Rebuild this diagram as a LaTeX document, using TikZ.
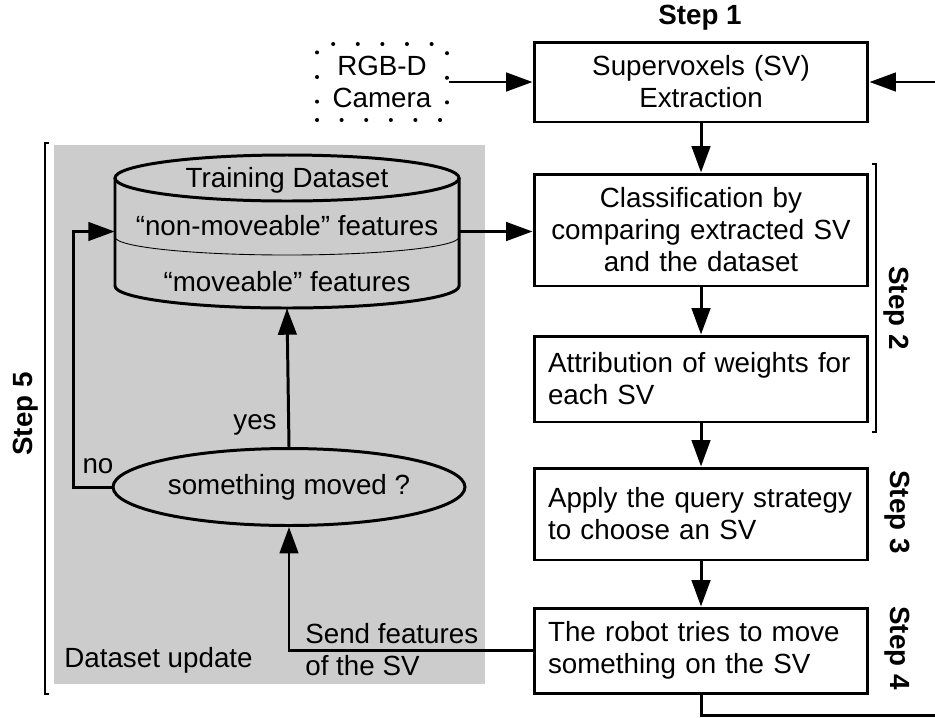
\documentclass[tikz,border=0pt]{standalone}
\usepackage{fontspec}
\setmainfont{Liberation Sans}
\usetikzlibrary{arrows.meta, shapes.geometric}

\tikzset{
	box/.style={draw, line width=1.7pt, minimum width=6.68cm, inner sep=0pt},
	lbox/.style={box, text width=6.12cm, inner xsep=0.28cm, align=left},
	cbox/.style={box, text width=6.5cm, align=center},
	link/.style={line width=1.7pt},
	arr/.style={link, -{Triangle[length=15pt,width=10.5pt]}},
	steplbl/.style={font=\fontsize{15.8}{18.2}\selectfont\bfseries},
	brace/.style={line width=1.2pt},
}

\begin{document}
	\begin{tikzpicture}[x=0.02cm, y=-0.02cm, font=\fontsize{15.8}{18.2}\selectfont]
		\useasboundingbox (0,0) rectangle (935,717);
		\fill[black!20] (54,145) rectangle (485,684);

		% right column
		\node[cbox, minimum height=1.6cm] (sv) at (701,82) {Supervoxels (SV)\\Extraction};
		\node[cbox, minimum height=2.24cm] (class) at (701,230) {Classification by\\comparing extracted SV\\and the dataset};
		\node[lbox, minimum height=1.72cm] (weights) at (701,379) {Attribution of weights for\\each SV};
		\node[lbox, minimum height=1.84cm] (query) at (701,514) {Apply the query strategy\\to choose an SV};
		\node[lbox, minimum height=1.7cm] (robot) at (701,650.5) {The robot tries to move\\something on the SV};
		\node[draw, line width=2.3pt, dash pattern=on 0pt off 14pt, line cap=round, minimum width=2.6cm, minimum height=1.52cm, align=center] (camera) at (382,82) {RGB-D\\Camera};

		\node[steplbl] (s1) at (700,18) {Step 1};
		\node[steplbl, rotate=-90] (s2) at (896,308) {Step 2};
		\node[steplbl, rotate=-90] (s3) at (897,512) {Step 3};
		\node[steplbl, rotate=-90] (s4) at (897,648) {Step 4};
		\node[steplbl, rotate=90] (s5) at (26,414) {Step 5};

		\draw[brace] (872,164) -- (876,164) -- (876,432) -- (872,432);
		\draw[brace] (49,143) -- (45,143) -- (45,694) -- (49,694);

		\coordinate (loopin) at (935,82);
		\coordinate (loopout) at (935,715);
		\draw[arr] (camera) -- (sv);
		\draw[arr] (loopin) -- (sv.east);
		\draw[arr] (sv) -- (class);
		\draw[arr] (class) -- (weights);
		\draw[arr] (weights) -- (query);
		\draw[arr] (query) -- (robot);
		\draw[link] (robot.south) |- (loopout);

		% dataset
		\node[minimum width=6.88cm, minimum height=3.06cm, inner sep=0pt] (dataset) at (287,231.5) {};
		\draw[link] (287,178) ellipse [x radius=172, y radius=23];
		\draw[link] (115,178) -- (115,286) arc[start angle=180, end angle=0, x radius=172, y radius=22] -- (459,178);
		\draw[line width=0.5pt] (115,237) arc[start angle=180, end angle=0, x radius=172, y radius=18];
		\node (title) at (287,180) {Training Dataset};
		\node (nonmov) at (287,226) {“non-moveable” features};
		\node (mov) at (287,282) {“moveable” features};
		\draw[arr] (dataset.east) -- (dataset.east -| class.west);

		\node[ellipse, draw, line width=1.7pt, inner sep=0pt, minimum width=7.04cm, minimum height=1.54cm] (moved) at (289,487) {something moved ?};
		\draw[arr] (moved.north) -- (dataset.south);
		\draw[arr] (moved.west) -- ++(-38,0) |- (dataset.west);
		\draw[arr] (robot.west) -| (moved.south);

		\node (yes) at (255,425) {yes};
		\node (no) at (98,466) {no};
		\node[anchor=west, align=left, inner sep=0pt] (send) at (305,650) {Send features\\of the SV};
		\node[anchor=west, inner sep=0pt] (update) at (64,660) {Dataset update};
	\end{tikzpicture}
\end{document}
